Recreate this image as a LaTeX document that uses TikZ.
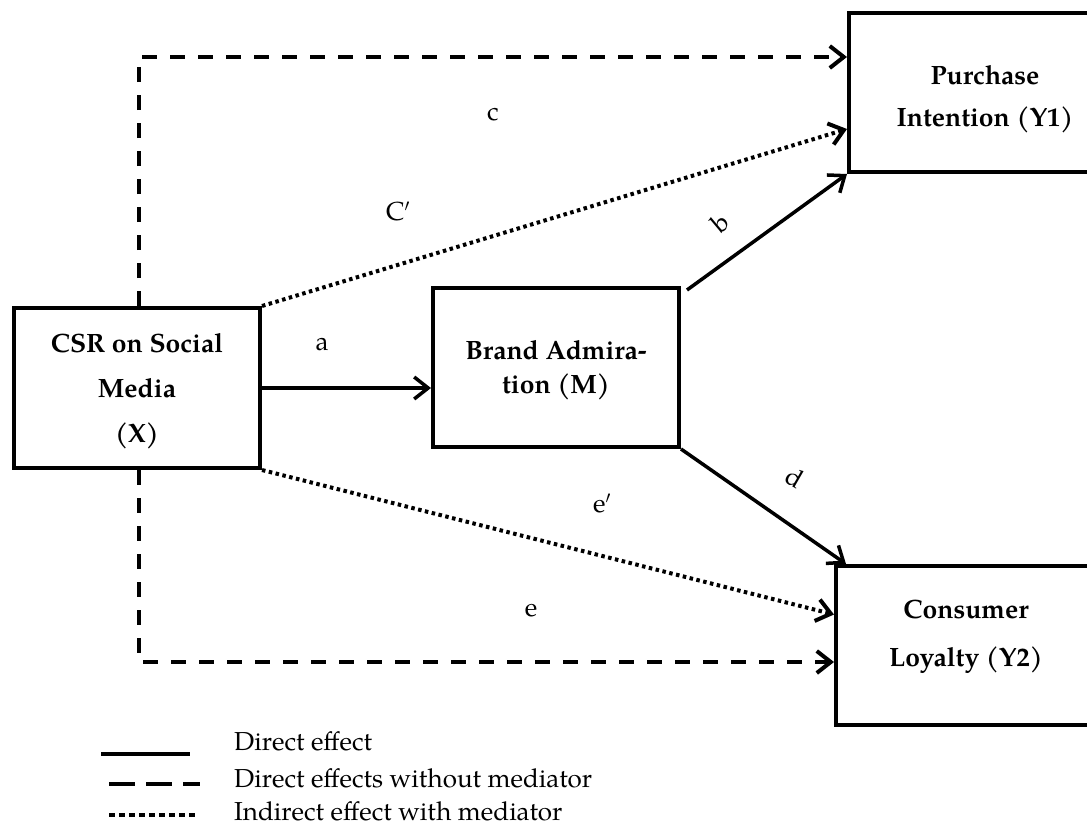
\documentclass[tikz,border=0pt]{standalone}
\usepackage{fontspec}
\setmainfont{texgyrepagella}[Extension=.otf,UprightFont=*-regular,BoldFont=*-bold,ItalicFont=*-italic,BoldItalicFont=*-bolditalic]
\usetikzlibrary{arrows.meta,calc}
\begin{document}
\begin{tikzpicture}[x=1pt,y=-1pt,
  box/.style={draw, line width=4pt, inner sep=0pt, minimum width=#1, minimum height=159pt},
  boxtext/.style={font=\fontsize{26.5}{#1}\selectfont\bfseries, align=center, inner sep=0pt},
  lbl/.style={font=\fontsize{26}{30}\selectfont, inner sep=0pt},
  tip/.style={-{Straight Barb[length=14pt,width=22pt]}},
  solidline/.style={line width=3.5pt},
  dashline/.style={line width=4pt, dash pattern=on 15pt off 13pt},
  dotline/.style={line width=4pt, dash pattern=on 3.5pt off 3.5pt}]
\useasboundingbox (0,0) rectangle (1087,839);
% boxes
\node[box=246pt, minimum height=160pt] (x) at (137,388) {};
\node[box=246pt] (m) at (556,367.5) {};
\node[box=272pt] (y1) at (985,92.5) {};
\node[box=260pt] (y2) at (966,645.5) {};
% box texts
\node[boxtext=45pt] (xt) at (137,391) {CSR on Social\\Media\\(X)};
\node[boxtext=34pt] (mt) at (556,370) {Brand Admira-\\tion (M)};
\node[boxtext=42pt] (y1t) at (985,99) {Purchase\\Intention (Y1)};
\node[boxtext=48pt] (y2t) at (966,637) {Consumer\\Loyalty (Y2)};
% turning points
\coordinate (cturn) at (139,57);
\coordinate (eturn) at (139,662);
% dashed: direct effects without mediator
\draw[dashline, tip] (x.north -| cturn) -- (cturn) -- (cturn -| y1.west);
\draw[dashline, tip] (x.south -| eturn) -- (eturn) -- (eturn -| y2.west);
% dotted: indirect
\draw[dotline, tip] (x.north east) -- ($(y1.south west)+(0,-45)$);
\draw[dotline, tip] (x.south east) -- ($(y2.west)+(0,-31)$);
% solid: direct
\draw[solidline, tip] (x.east) -- (x.east -| m.west);
\draw[solidline, tip] ($(m.north east)+(6,4)$) -- (y1.south west);
\draw[solidline, tip] (m.south east) -- ($(y2.north west)+(12,0)$);
% path labels
\node[lbl] (lc) at (493,115) {c};
\node[lbl] (lcp) at (398,211) {C$'$};
\node[lbl] (la) at (322,345) {a};
\node[lbl, rotate=40] (lb) at (720,223) {b};
\node[lbl, rotate=-30] (ld) at (795,477) {d};
\node[lbl] (lep) at (602,503) {e$'$};
\node[lbl] (le) at (531,611) {e};
% legend
\coordinate (s1) at (101,754); \coordinate (s2) at (190,754);
\coordinate (d1) at (109,784); \coordinate (d2) at (200,784);
\coordinate (o1) at (109,815); \coordinate (o2) at (198,815);
\draw[line width=4.5pt] (s1) -- (s2);
\draw[line width=4.5pt, dash pattern=on 26pt off 11pt] (d1) -- (d2);
\draw[line width=4.5pt, dash pattern=on 5.5pt off 4.5pt] (o1) -- (o2);
\node[lbl, anchor=base west] (t1) at (234,750) {Direct effect};
\node[lbl, anchor=base west] (t2) at (234,787) {Direct effects without mediator};
\node[lbl, anchor=base west] (t3) at (234,820) {Indirect effect with mediator};
\end{tikzpicture}
\end{document}
